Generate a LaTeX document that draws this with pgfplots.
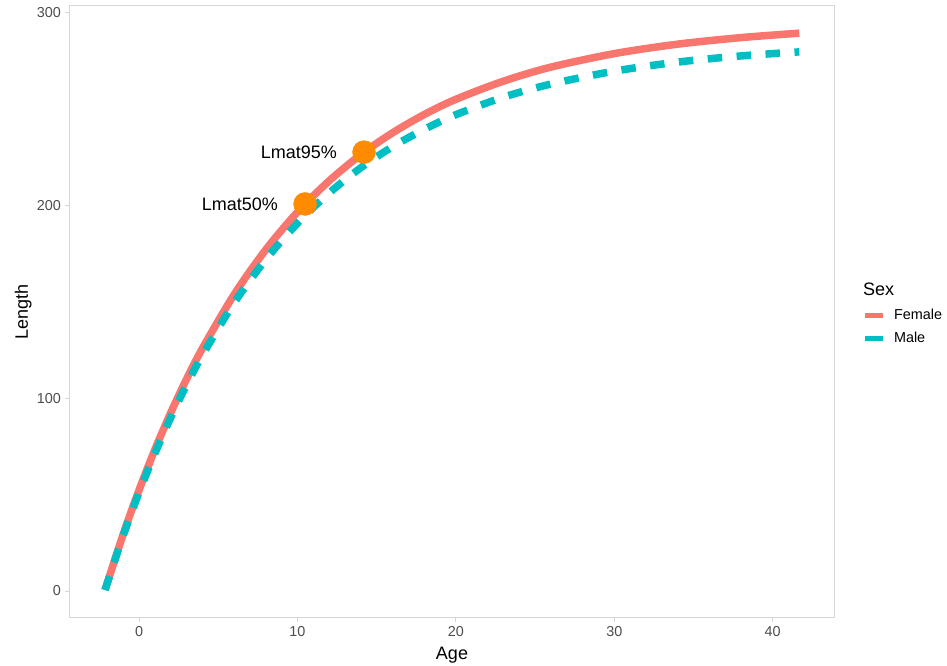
\documentclass[border=0pt]{standalone}
\usepackage{pgfplots}
\pgfplotsset{compat=1.18}
\usepackage{pgfplotstable}
\usepackage{fontspec}
\setmainfont{Liberation Sans}
\definecolor{fem}{HTML}{F8766D}
\definecolor{mal}{HTML}{00BFC4}
\definecolor{ptc}{HTML}{FF8C00}
\definecolor{bord}{HTML}{D6D6D6}
\definecolor{ticklab}{HTML}{4D4D4D}

\pgfplotstableread{
age    female  male
-2.15  0.53    0.52
-1     29.5    28.8
0      52.4    51.1
1      73.4    71.4
2      92.5    90.0
3      110.0   107.0
4      125.9   122.4
6      153.8   149.5
8      177.1   172.0
10     196.6   190.8
12     212.8   206.5
14     226.4   219.6
16     237.7   230.5
18     247.2   239.5
20     255.1   247.1
23     264.5   256.2
26     271.8   263.0
30     278.8   269.7
34     283.7   274.4
38     287.1   277.6
41.68  289.4   279.7
}\growth

\begin{document}
\begin{tikzpicture}
\path[use as bounding box] (0pt,0pt) rectangle (947pt,665pt);
\begin{axis}[
  name=ax,
  at={(70pt,47.3pt)}, anchor=south west,
  scale only axis, width=764pt, height=611.7pt,
  xmin=-4.36, xmax=43.87, ymin=-13.85, ymax=303.5,
  xtick={0,10,20,30,40}, ytick={0,100,200,300},
  axis line style={color=bord, line width=1pt},
  tick align=outside, tick pos=left,
  major tick length=4.5pt,
  major tick style={color=bord, line width=1pt},
  /pgf/number format/assume math mode=true,
  tick label style={font=\fontsize{14.4}{17}\selectfont, text=ticklab},
  xticklabel style={inner sep=0pt, yshift=-3.6pt},
  yticklabel style={inner sep=0pt, xshift=-4.5pt},
  xlabel={Age}, ylabel={Length},
  label style={font=\fontsize{18}{21}\selectfont},
  xlabel style={at={(axis description cs:0.5,0)}, anchor=base, yshift=-41.3pt},
  ylabel style={at={(axis description cs:-0.055,0.5)}, anchor=base},
  legend style={at={(axis description cs:1.0367,0.4753)}, anchor=west,
    draw=none, fill=none, inner sep=0pt, outer sep=0pt,
    font=\fontsize{14.4}{17}\selectfont, row sep=11pt,
    nodes={inner sep=0pt},
    /tikz/every odd column/.append style={column sep=9pt}},
  legend cell align=left,
  legend image code/.code={\draw[#1, solid, line width=5pt] (0pt,0pt) -- (18pt,0pt);},
]
\addplot[fem, line width=7.5pt, smooth, line join=round] table[x=age, y=female] {\growth};
\addlegendentry{Female}
\addplot[mal, line width=7.5pt, smooth, dash pattern=on 14.5pt off 14.5pt] table[x=age, y=male] {\growth};
\addlegendentry{Male}
\addplot[forget plot, only marks, mark=*, mark size=11.5pt, color=ptc,
  point meta=explicit symbolic, nodes near coords,
  every node near coord/.append style={anchor=east, xshift=-27pt, inner sep=0pt,
    text=black, font=\fontsize{18}{21}\selectfont}]
  coordinates {(10.48,200.8) [Lmat50\%] (14.2,227.7) [Lmat95\%]};
\end{axis}
\node[anchor=west, inner sep=0pt, font=\fontsize{18}{21}\selectfont] at (863pt,376pt) {Sex};
\end{tikzpicture}
\end{document}
